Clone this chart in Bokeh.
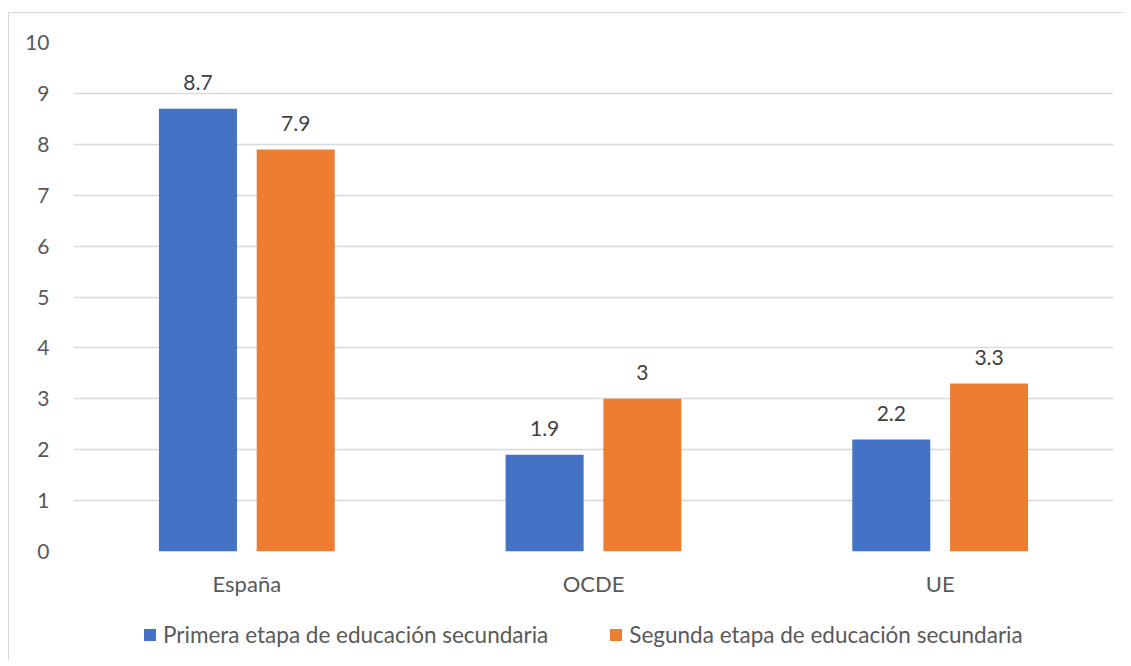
from bokeh.plotting import figure
from bokeh.layouts import column
from bokeh.models import ColumnDataSource, FactorRange, Legend, LegendItem, Range1d, SingleIntervalTicker
from bokeh.transform import dodge
from bokeh.core.properties import value
from bokeh.embed import file_html
from bokeh.resources import INLINE

categories = ["España", "OCDE", "UE"]
primera = [8.7, 1.9, 2.2]
segunda = [7.9, 3.0, 3.3]
primera_labels = ["8.7", "1.9", "2.2"]
segunda_labels = ["7.9", "3", "3.3"]
series_names = ["Primera etapa de educación secundaria", "Segunda etapa de educación secundaria"]

BLUE = "#4472c4"
ORANGE = "#ed7d31"
FONT = "Lato"

src = ColumnDataSource(dict(cat=categories, p=primera, s=segunda, pl=primera_labels, sl=segunda_labels))

p = figure(width=1114, height=595, x_range=FactorRange(*categories, range_padding=0),
           y_range=Range1d(0, 10), output_backend="svg", toolbar_location=None,
           min_border_left=64, min_border_right=10, min_border_top=29, min_border_bottom=57)
p.outline_line_color = None
p.background_fill_color = "white"

p.vbar(x=dodge("cat", -0.141, range=p.x_range), top="p", width=0.225, source=src,
       fill_color=BLUE, line_color=None)
p.vbar(x=dodge("cat", 0.141, range=p.x_range), top="s", width=0.225, source=src,
       fill_color=ORANGE, line_color=None)

p.text(x=dodge("cat", -0.141, range=p.x_range), y="p", text="pl", source=src,
       text_align="center", text_baseline="middle", y_offset=-26,
       text_font=value(FONT), text_font_size="21px", text_color="#404040")
p.text(x=dodge("cat", 0.141, range=p.x_range), y="s", text="sl", source=src,
       text_align="center", text_baseline="middle", y_offset=-26,
       text_font=value(FONT), text_font_size="21px", text_color="#404040")

p.yaxis.ticker = SingleIntervalTicker(interval=1)
p.ygrid.grid_line_color = "#d9d9d9"
p.ygrid.grid_line_width = 1.3
p.xgrid.grid_line_color = None
for ax in (p.xaxis, p.yaxis):
    ax.axis_line_color = None
    ax.major_tick_line_color = None
    ax.minor_tick_line_color = None
    ax.major_label_text_font = FONT
    ax.major_label_text_color = "#595959"
p.yaxis.major_label_text_font_size = "21px"
p.xaxis.major_label_text_font_size = "22px"
p.yaxis.major_label_standoff = 18
p.xaxis.major_label_standoff = 12

# legend strip below the chart (its bars sit outside its own y range, only the legend shows)
p2 = figure(width=1114, height=52, x_range=FactorRange(*categories), y_range=Range1d(100, 101),
            x_axis_type=None, y_axis_type=None, output_backend="svg", toolbar_location=None,
            min_border=0)
p2.outline_line_color = None
p2.grid.grid_line_color = None
d1 = p2.vbar(x="cat", top="p", width=0.1, source=src, fill_color=BLUE, line_color=None)
d2 = p2.vbar(x="cat", top="s", width=0.1, source=src, fill_color=ORANGE, line_color=None)
legend = Legend(items=[LegendItem(label=series_names[0], renderers=[d1]),
                       LegendItem(label=series_names[1], renderers=[d2])],
                orientation="horizontal", location=(69, 12),
                glyph_width=15, glyph_height=15, label_standoff=6, spacing=60,
                label_text_font=FONT, label_text_font_size="22.5px", label_text_color="#595959",
                border_line_color=None, background_fill_alpha=0, margin=0, padding=0)
p2.add_layout(legend)

layout = column(p, p2, spacing=0)
layout.styles = {"margin-left": "8px", "margin-top": "12px",
                 "border-top": "1px solid #d9d9d9", "border-left": "1px solid #d9d9d9"}

open("out.html", "w").write(file_html(layout, INLINE))
